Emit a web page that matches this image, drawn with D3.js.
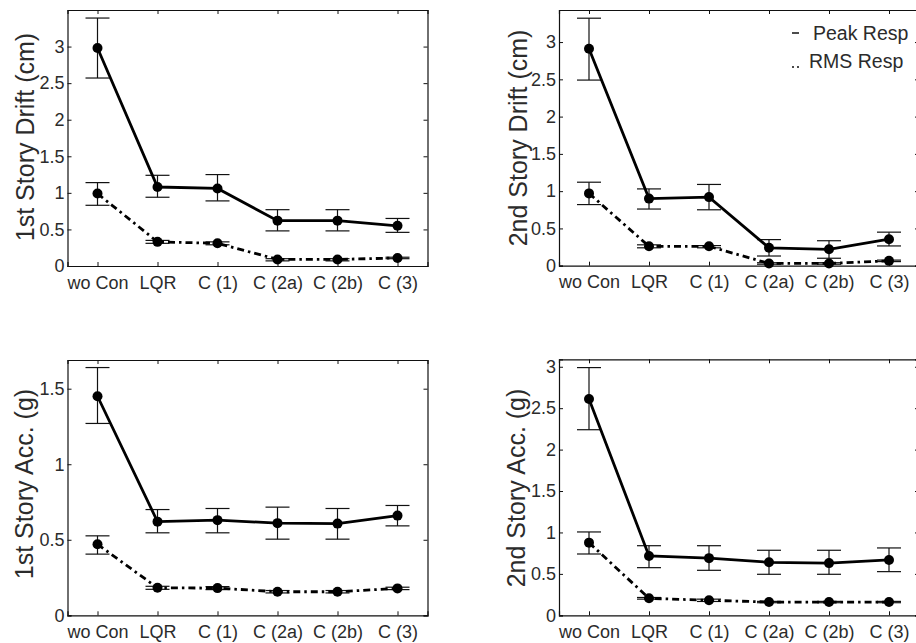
<html>
<head>
<script src="https://d3js.org/d3.v7.min.js"></script>
<style>
  body { margin: 0; background: #fff; }
  text { font-family: "Liberation Sans", Arial, sans-serif; fill: #2b2b2b; }
</style>
</head>
<body>
<svg id="fig" width="916" height="643"></svg>
<script>
// controller names along x
const controllers = ['wo Con', 'LQR', 'C (1)', 'C (2a)', 'C (2b)', 'C (3)'];

// 1st story drift (cm)
const drift1Peak   = [2.98, 1.08, 1.06, 0.62, 0.62, 0.55];
const drift1PeakHi = [3.39, 1.24, 1.25, 0.77, 0.77, 0.65];
const drift1PeakLo = [2.57, 0.94, 0.89, 0.48, 0.48, 0.46];
const drift1Rms    = [0.99, 0.33, 0.31, 0.09, 0.09, 0.11];
const drift1RmsHi  = [1.14, 0.35, 0.33, 0.10, 0.10, 0.12];
const drift1RmsLo  = [0.83, 0.31, 0.29, 0.07, 0.07, 0.10];

// 2nd story drift (cm)
const drift2Peak   = [2.91, 0.90, 0.92, 0.24, 0.22, 0.355];
const drift2PeakHi = [3.32, 1.03, 1.09, 0.35, 0.335, 0.45];
const drift2PeakLo = [2.49, 0.76, 0.75, 0.13, 0.10, 0.265];
const drift2Rms    = [0.97, 0.26, 0.26, 0.03, 0.03, 0.065];
const drift2RmsHi  = [1.12, 0.28, 0.27, 0.04, 0.04, 0.075];
const drift2RmsLo  = [0.82, 0.24, 0.24, 0.02, 0.02, 0.055];

// 1st story acceleration (g)
const acc1Peak   = [1.45, 0.62, 0.63, 0.61, 0.607, 0.66];
const acc1PeakHi = [1.64, 0.70, 0.707, 0.716, 0.707, 0.727];
const acc1PeakLo = [1.27, 0.546, 0.546, 0.504, 0.504, 0.592];
const acc1Rms    = [0.47, 0.182, 0.18, 0.156, 0.156, 0.178];
const acc1RmsHi  = [0.526, 0.192, 0.19, 0.164, 0.164, 0.186];
const acc1RmsLo  = [0.405, 0.172, 0.17, 0.148, 0.148, 0.17];

// 2nd story acceleration (g)
const acc2Peak   = [2.61, 0.716, 0.69, 0.64, 0.63, 0.668];
const acc2PeakHi = [2.99, 0.84, 0.84, 0.785, 0.785, 0.813];
const acc2PeakLo = [2.24, 0.575, 0.543, 0.495, 0.495, 0.527];
const acc2Rms    = [0.877, 0.205, 0.181, 0.16, 0.16, 0.16];
const acc2RmsHi  = [1.006, 0.215, 0.195, 0.168, 0.168, 0.168];
const acc2RmsLo  = [0.74, 0.195, 0.167, 0.152, 0.152, 0.152];

const yMax = [3.5, 3.43, 1.69, 3.09];
const yTicks = [
  [0, 0.5, 1, 1.5, 2, 2.5, 3],
  [0, 0.5, 1, 1.5, 2, 2.5, 3],
  [0, 0.5, 1, 1.5],
  [0, 0.5, 1, 1.5, 2, 2.5, 3]
];
const yLabels = ['1st Story Drift (cm)', '2nd Story Drift (cm)', '1st Story Acc. (g)', '2nd Story Acc. (g)'];
const legendItems = ['Peak Resp', 'RMS Resp'];

const panels = [
  {peak: drift1Peak, peakHi: drift1PeakHi, peakLo: drift1PeakLo, rms: drift1Rms, rmsHi: drift1RmsHi, rmsLo: drift1RmsLo},
  {peak: drift2Peak, peakHi: drift2PeakHi, peakLo: drift2PeakLo, rms: drift2Rms, rmsHi: drift2RmsHi, rmsLo: drift2RmsLo},
  {peak: acc1Peak, peakHi: acc1PeakHi, peakLo: acc1PeakLo, rms: acc1Rms, rmsHi: acc1RmsHi, rmsLo: acc1RmsLo},
  {peak: acc2Peak, peakHi: acc2PeakHi, peakLo: acc2PeakLo, rms: acc2Rms, rmsHi: acc2RmsHi, rmsLo: acc2RmsLo}
];

// box position of each axes
const boxes = [
  {x0: 67.5, x1: 427.5, y0: 10, y1: 266, lx: 25, ly: 137},
  {x0: 559, x1: 919, y0: 10, y1: 265.7, lx: 518, ly: 138},
  {x0: 67.5, x1: 427.5, y0: 360, y1: 615.3, lx: 24, ly: 484},
  {x0: 559, x1: 919, y0: 359.3, y1: 615.3, lx: 516.5, ly: 488}
];

const svg = d3.select('svg#fig');

panels.forEach((p, k) => {
  const b = boxes[k];
  const x = d3.scaleLinear().domain([0.5, 6.5]).range([b.x0, b.x1]);
  const y = d3.scaleLinear().domain([0, yMax[k]]).range([b.y1, b.y0]);
  const g = svg.append('g');

  // MATLAB style box with inward ticks on all sides
  const xAxis = d3.axisBottom(x).tickValues(d3.range(1, 7)).tickSize(-4)
                  .tickFormat((d, i) => controllers[i]);
  const gx = g.append('g').attr('transform', `translate(0,${b.y1})`).call(xAxis);
  gx.selectAll('text').attr('dy', '1.1em').style('font-size', '18px');
  g.append('g').attr('transform', `translate(0,${b.y0})`)
    .call(d3.axisTop(x).tickValues(d3.range(1, 7)).tickSize(-4).tickFormat(''));

  const gy = g.append('g').attr('transform', `translate(${b.x0},0)`)
    .call(d3.axisLeft(y).tickValues(yTicks[k]).tickSize(-4).tickFormat(d3.format('')));
  gy.selectAll('text').attr('x', -3).style('font-size', '18px');
  g.append('g').attr('transform', `translate(${b.x1},0)`)
    .call(d3.axisRight(y).tickValues(yTicks[k]).tickSize(-4).tickFormat(''));

  g.selectAll('.domain').attr('stroke', '#111').attr('stroke-width', 1.2);
  g.selectAll('.tick line').attr('stroke', '#111');

  g.append('text')
    .attr('transform', `translate(${b.lx},${b.ly}) rotate(-90)`)
    .attr('text-anchor', 'middle').attr('dy', '0.35em')
    .style('font-size', '25px')
    .text(yLabels[k]);

  const series = [
    {v: p.peak, hi: p.peakHi, lo: p.peakLo, dash: null, w: 2.8},
    {v: p.rms, hi: p.rmsHi, lo: p.rmsLo, dash: '7,4,2.5,4', w: 2.8}
  ];

  series.forEach(s => {
    // error bars
    s.v.forEach((d, i) => {
      const cx = x(i + 1);
      g.append('line').attr('x1', cx).attr('x2', cx)
        .attr('y1', y(s.lo[i])).attr('y2', y(s.hi[i]))
        .attr('stroke', '#111').attr('stroke-width', 1.2);
      [s.lo[i], s.hi[i]].forEach(e => {
        g.append('line').attr('x1', cx - 12).attr('x2', cx + 12)
          .attr('y1', y(e)).attr('y2', y(e))
          .attr('stroke', '#111').attr('stroke-width', 1.2);
      });
    });

    g.append('path')
      .datum(s.v)
      .attr('d', d3.line().x((d, i) => x(i + 1)).y(d => y(d)))
      .attr('fill', 'none').attr('stroke', '#000')
      .attr('stroke-width', s.w)
      .attr('stroke-dasharray', s.dash);

    g.selectAll(null).data(s.v).join('circle')
      .attr('cx', (d, i) => x(i + 1)).attr('cy', d => y(d))
      .attr('r', 5).attr('fill', '#000');
  });
});

// legend in the top right axes, no frame
const leg = svg.append('g');
leg.append('line').attr('x1', 792).attr('x2', 799).attr('y1', 33).attr('y2', 33)
   .attr('stroke', '#111').attr('stroke-width', 1.5);
leg.append('line').attr('x1', 792).attr('x2', 802).attr('y1', 67).attr('y2', 67)
   .attr('stroke', '#111').attr('stroke-width', 1.5).attr('stroke-dasharray', '2,3');
leg.selectAll('text.leg').data(legendItems).join('text')
   .attr('class', 'leg')
   .attr('x', (d, i) => i === 0 ? 813 : 809)
   .attr('y', (d, i) => 40 + i * 28)
   .style('font-size', '19.5px')
   .text(d => d);
</script>
</body>
</html>
